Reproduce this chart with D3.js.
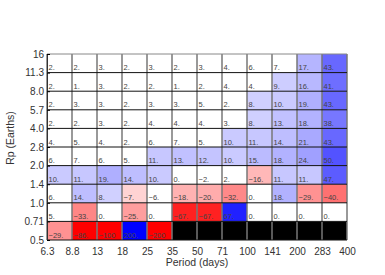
<!DOCTYPE html>
<html>
<head>
<meta charset="utf-8">
<script src="https://cdn.jsdelivr.net/npm/d3@7"></script>
<style>
  body { margin: 0; background: #fff; }
  text { font-family: "Liberation Sans", Arial, sans-serif; }
</style>
</head>
<body>
<div id="chart"></div>
<script>
// bin edges shown on the axes
var periodTicks = ["6.3", "8.8", "13", "18", "25", "35", "50", "71", "100", "141", "200", "283", "400"];
var radiusTicks = ["0.5", "0.71", "1.0", "1.4", "2.0", "2.8", "4.0", "5.7", "8.0", "11.3", "16"];

// cell values, one array per radius bin (smallest radius first), null = no data
var r05 = [-29, -86, -100, 200, -200, null, null, null, null, null, null, null];
var r071 = [5, -33, 0, -25, 0, -67, -67, 67, 0, 0, 0, 0];
var r10 = [6, 14, 8, -7, -6, -18, -20, -32, 0, 18, -29, -40];
var r14 = [10, 11, 19, 14, 10, 0, -2, 2, -16, 11, 11, 47];
var r20 = [6, 7, 6, 5, 11, 13, 12, 10, 15, 18, 24, 50];
var r28 = [4, 5, 4, 2, 6, 7, 5, 10, 11, 14, 21, 43];
var r40 = [2, 2, 3, 2, 4, 4, 4, 3, 8, 13, 18, 38];
var r57 = [2, 3, 3, 2, 3, 3, 5, 2, 8, 10, 19, 43];
var r80 = [2, 1, 3, 2, 2, 1, 2, 4, 4, 9, 16, 41];
var r113 = [2, 2, 3, 2, 3, 2, 3, 4, 6, 7, 17, 43];

var rows = [r05, r071, r10, r14, r20, r28, r40, r57, r80, r113];

var svgWidth = 385, svgHeight = 275;
var plot = { left: 47, right: 347, top: 54, bottom: 240 };

var svg = d3.select("#chart").append("svg")
    .attr("width", svgWidth)
    .attr("height", svgHeight);

// edge scales (index of bin boundary -> pixel)
var xEdge = d3.scaleLinear().domain([0, periodTicks.length - 1]).range([plot.left, plot.right]);
var yEdge = d3.scaleLinear().domain([0, radiusTicks.length - 1]).range([plot.bottom, plot.top]);

// colours: blue for positive, red for negative, white near zero
var blue = d3.scaleLinear().domain([8, 78]).range(["#d0d0ff", "#0000ff"]).clamp(true);
var red = d3.scaleLinear().domain([-7, -78]).range(["#ffd3d3", "#ff0000"]).clamp(true);
function cellColor(v) {
    if (v === null) return "#000";
    if (v >= 8) return blue(v);
    if (v <= -7) return red(v);
    return "#fff";
}

var cells = [];
rows.forEach(function(row, j) {
    row.forEach(function(v, i) {
        cells.push({ i: i, j: j, v: v });
    });
});

var cellGroup = svg.append("g");

cellGroup.selectAll("rect")
    .data(cells)
    .enter()
    .append("rect")
    .attr("x", d => xEdge(d.i))
    .attr("y", d => yEdge(d.j + 1))
    .attr("width", d => xEdge(d.i + 1) - xEdge(d.i))
    .attr("height", d => yEdge(d.j) - yEdge(d.j + 1))
    .attr("fill", d => cellColor(d.v));

// grid lines
svg.append("g").selectAll("line")
    .data(d3.range(periodTicks.length))
    .enter()
    .append("line")
    .attr("x1", d => xEdge(d)).attr("x2", d => xEdge(d))
    .attr("y1", plot.top).attr("y2", plot.bottom)
    .attr("stroke", "#777")
    .attr("stroke-width", 1.5);

svg.append("g").selectAll("line")
    .data(d3.range(radiusTicks.length))
    .enter()
    .append("line")
    .attr("x1", plot.left).attr("x2", plot.right)
    .attr("y1", d => yEdge(d)).attr("y2", d => yEdge(d))
    .attr("stroke", d => d === radiusTicks.length - 1 ? "#888" : "#111")
    .attr("stroke-width", 1);

// cell labels (max 4 characters, like the original)
cellGroup.selectAll("text")
    .data(cells.filter(d => d.v !== null))
    .enter()
    .append("text")
    .attr("x", d => xEdge(d.i) + 1.5)
    .attr("y", d => yEdge(d.j) - 2.5)
    .attr("font-size", "7.5px")
    .attr("fill", "#444")
    .text(d => ((d.v < 0 ? "\u2212" : "") + Math.abs(d.v) + ".").slice(0, 4));

// axes
var bottomAxis = d3.axisBottom(xEdge)
    .tickValues(d3.range(periodTicks.length))
    .tickFormat(i => periodTicks[i])
    .tickSize(0)
    .tickPadding(8);

var leftAxis = d3.axisLeft(yEdge)
    .tickValues(d3.range(radiusTicks.length))
    .tickFormat(i => radiusTicks[i])
    .tickSizeInner(-3)
    .tickSizeOuter(0)
    .tickPadding(3);

var xAxisG = svg.append("g")
    .attr("transform", `translate(0,${plot.bottom})`)
    .call(bottomAxis);
xAxisG.select(".domain").remove();

var yAxisG = svg.append("g")
    .attr("transform", `translate(${plot.left},0)`)
    .call(leftAxis);
yAxisG.select(".domain").attr("stroke", "#333");

svg.selectAll(".tick text")
    .attr("font-size", "10px")
    .attr("fill", "#333")
    .style("font-family", "'Liberation Sans', Arial, sans-serif");

// titles
svg.append("text")
    .attr("x", (plot.left + plot.right) / 2)
    .attr("y", 266)
    .attr("text-anchor", "middle")
    .attr("font-size", "10.5px")
    .attr("fill", "#333")
    .text("Period (days)");

svg.append("text")
    .attr("transform", "rotate(-90)")
    .attr("x", -138)
    .attr("y", 14)
    .attr("text-anchor", "middle")
    .attr("font-size", "10.5px")
    .attr("fill", "#333")
    .text("Rp (Earths)");
</script>
</body>
</html>
